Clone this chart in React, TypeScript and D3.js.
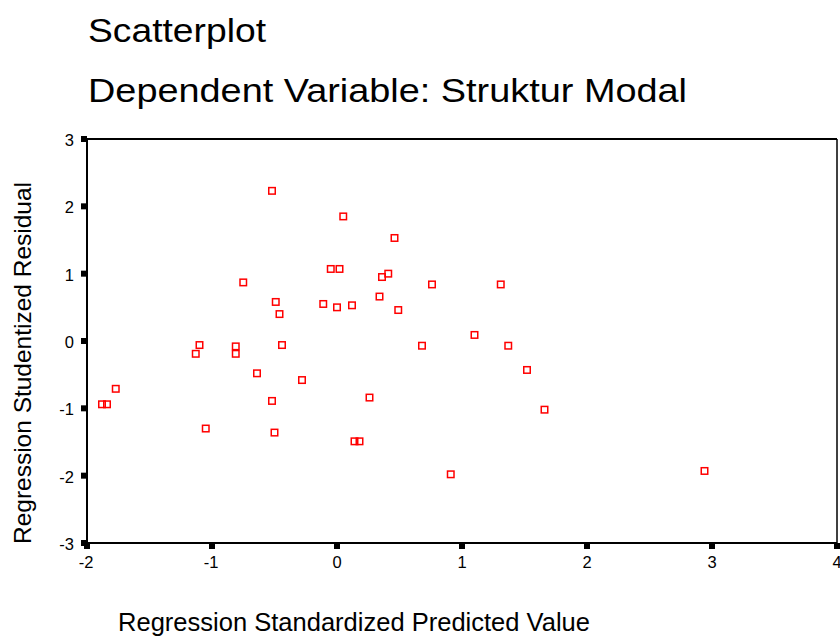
import React, { useEffect, useRef } from "react";
import * as d3 from "d3";

// Regression Standardized Predicted Value
const predicted = [
  -0.52, 0.05, 0.46, -0.05, 0.02, -0.75, 0.36, 0.41, 0.76, 1.31,
  -0.49, -0.46, -0.11, 0.0, 0.12, 0.34, 0.49, 1.1, -1.1, -1.13,
  -0.81, -0.81, -0.44, 0.68, 1.37, -0.64, -0.28, 1.52, -1.77, -1.88,
  -1.84, -0.52, 0.26, 1.66, -1.05, -0.5, 0.14, 0.18, 0.91, 2.94,
];

// Regression Studentized Residual
const residual = [
  2.23, 1.85, 1.53, 1.07, 1.07, 0.87, 0.95, 1.0, 0.84, 0.84,
  0.58, 0.4, 0.55, 0.5, 0.53, 0.66, 0.46, 0.09, -0.06, -0.19,
  -0.08, -0.19, -0.06, -0.07, -0.07, -0.48, -0.58, -0.43, -0.71, -0.94,
  -0.94, -0.89, -0.84, -1.02, -1.3, -1.36, -1.49, -1.49, -1.98, -1.93,
];

const xTicks = [-2, -1, 0, 1, 2, 3, 4];
const yTicks = [-3, -2, -1, 0, 1, 2, 3];

const WIDTH = 840;
const HEIGHT = 636;
const FONT = "'Liberation Sans', Arial, Helvetica, sans-serif";

export default function App() {
  const svgRef = useRef<SVGSVGElement>(null);

  useEffect(() => {
    if (!svgRef.current) return;
    const svg = d3.select(svgRef.current);
    svg.selectAll("*").remove();

    const left = 87;
    const right = 837;
    const top = 139;
    const bottom = 543;

    const x = d3.scaleLinear().domain([-2, 4]).range([left, right]);
    const y = d3.scaleLinear().domain([-3, 3]).range([bottom, top]);

    svg.append("rect").attr("width", WIDTH).attr("height", HEIGHT).attr("fill", "#fff");

    // titles
    svg
      .append("text")
      .attr("x", 88)
      .attr("y", 41.5)
      .attr("font-size", 33)
      .attr("textLength", 178)
      .attr("lengthAdjust", "spacingAndGlyphs")
      .text("Scatterplot");

    svg
      .append("text")
      .attr("x", 88)
      .attr("y", 102)
      .attr("font-size", 33)
      .attr("textLength", 599)
      .attr("lengthAdjust", "spacingAndGlyphs")
      .text("Dependent Variable: Struktur Modal");

    // frame
    const frame = svg.append("g").attr("stroke", "#000").attr("fill", "none");
    frame.append("line").attr("x1", left).attr("x2", right).attr("y1", top).attr("y2", top).attr("stroke-width", 2);
    frame.append("line").attr("x1", right).attr("x2", right).attr("y1", top).attr("y2", bottom).attr("stroke-width", 1.5);
    frame.append("line").attr("x1", left).attr("x2", left).attr("y1", top - 1).attr("y2", bottom + 1).attr("stroke-width", 2);
    frame.append("line").attr("x1", left - 1).attr("x2", right).attr("y1", bottom).attr("y2", bottom).attr("stroke-width", 2);

    // y ticks
    yTicks.forEach((t) => {
      svg
        .append("rect")
        .attr("x", left - 6)
        .attr("y", y(t) - 3)
        .attr("width", 6)
        .attr("height", 6)
        .attr("fill", "#000");
      svg
        .append("text")
        .attr("x", 74)
        .attr("y", y(t) + 7)
        .attr("text-anchor", "end")
        .attr("font-size", 16.5)
        .text(t < 0 ? `-${Math.abs(t)}` : `${t}`);
    });

    // x ticks
    xTicks.forEach((t) => {
      svg
        .append("rect")
        .attr("x", x(t) - 3)
        .attr("y", bottom)
        .attr("width", 6)
        .attr("height", 6)
        .attr("fill", "#000");
      svg
        .append("text")
        .attr("x", x(t) - (t < 0 ? 1 : 0))
        .attr("y", 568)
        .attr("text-anchor", "middle")
        .attr("font-size", 16.5)
        .text(t < 0 ? `-${Math.abs(t)}` : `${t}`);
    });

    // points
    const size = 6.5;
    svg
      .append("g")
      .selectAll("rect")
      .data(predicted.map((p, i) => ({ p, r: residual[i] })))
      .enter()
      .append("rect")
      .attr("x", (d) => x(d.p) - size / 2)
      .attr("y", (d) => y(d.r) - size / 2)
      .attr("width", size)
      .attr("height", size)
      .attr("fill", "none")
      .attr("stroke", "#ff0000")
      .attr("stroke-width", 1.5);

    // axis labels
    svg
      .append("text")
      .attr("x", 118)
      .attr("y", 631)
      .attr("font-size", 25)
      .attr("textLength", 472)
      .attr("lengthAdjust", "spacingAndGlyphs")
      .text("Regression Standardized Predicted Value");

    svg
      .append("text")
      .attr("transform", "translate(31, 544) rotate(-90)")
      .attr("font-size", 24)
      .attr("textLength", 362)
      .attr("lengthAdjust", "spacingAndGlyphs")
      .text("Regression Studentized Residual");
  }, []);

  return (
    <svg
      ref={svgRef}
      width={WIDTH}
      height={HEIGHT}
      style={{ position: "absolute", left: 0, top: 0, fontFamily: FONT }}
    />
  );
}
